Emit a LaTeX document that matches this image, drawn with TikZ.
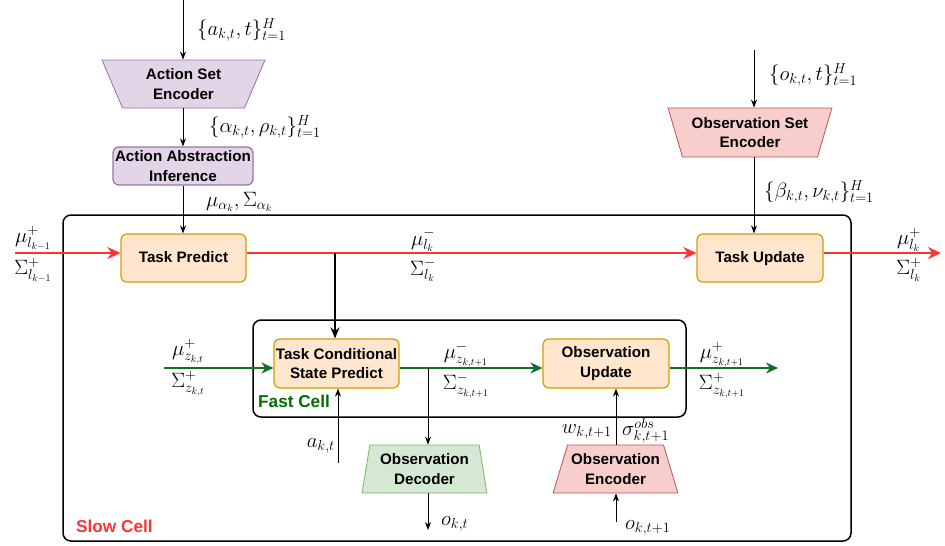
\documentclass[tikz,border=0pt]{standalone}
\usepackage{fontspec}
\setmainfont{Liberation Sans}
\usetikzlibrary{shapes.geometric,arrows.meta}
\definecolor{orfill}{HTML}{FFE6CC}
\definecolor{ordraw}{HTML}{D79B00}
\definecolor{pufill}{HTML}{E1D5E7}
\definecolor{pudraw}{HTML}{9673A6}
\definecolor{rdfill}{HTML}{F8CECC}
\definecolor{rddraw}{HTML}{B85450}
\definecolor{gnfill}{HTML}{D5E8D4}
\definecolor{gndraw}{HTML}{82B366}
\definecolor{redline}{HTML}{FF3333}
\definecolor{greenline}{RGB}{20,110,40}
\definecolor{greentext}{RGB}{0,110,0}
\newcommand{\boxfont}{\fontsize{15.2}{19.5}\selectfont\bfseries}
\newcommand{\mathfont}{\fontsize{20.5}{24}\selectfont}
\tikzset{
  taskbox/.style={draw=ordraw, fill=orfill, rounded corners=6pt, line width=1.2pt,
    align=center, font=\boxfont, inner sep=1pt},
  oneline/.style={text height=11pt, text depth=3pt},
  purplebox/.style={draw=pudraw, fill=pufill, rounded corners=6pt, line width=1.2pt,
    align=center, font=\boxfont, inner sep=1pt},
  trap/.style={trapezium, trapezium stretches=true, align=center, font=\boxfont,
    inner xsep=1pt, inner ysep=1pt, line width=0.8pt},
  lab/.style={font=\mathfont, inner sep=0pt},
  celllab/.style={font=\fontsize{17.2}{20}\selectfont\bfseries, anchor=west, inner sep=0pt},
  thinarrow/.style={draw=black, line width=0.8pt, -{Stealth[length=8pt,width=6pt]}},
  thickarrow/.style={draw=black, line width=2pt, -{Stealth[length=11pt,width=9pt]}},
  redarrow/.style={draw=redline, line width=2.6pt, -{Stealth[length=13pt,width=12pt]}},
  greenarrow/.style={draw=greenline, line width=2.4pt, -{Stealth[length=12pt,width=11pt]}},
  cellbox/.style={draw=black, line width=1.5pt, rounded corners=8pt},
}
\begin{document}
\begin{tikzpicture}[x=1pt,y=-1pt]
\useasboundingbox (0,0) rectangle (945,546);

% cells
\draw[cellbox] (63,215) rectangle (851,541);
\draw[cellbox] (253,320) rectangle (686,417);
\node[celllab, text=redline] (slowlab) at (76,526) {Slow Cell};
\node[celllab, text=greentext] (fastlab) at (258,401) {Fast Cell};

% nodes
\node[trap, draw=pudraw, fill=pufill, minimum width=163pt, minimum height=48pt,
  trapezium left angle=111.6, trapezium right angle=111.6] (ase) at (183.5,84) {Action Set\\Encoder};
\node[purplebox, minimum width=140pt, minimum height=38pt] (aai) at (183,166) {Action Abstraction\\Inference};
\node[trap, draw=rddraw, fill=rdfill, minimum width=164pt, minimum height=49pt,
  trapezium left angle=111.2, trapezium right angle=111.2] (ose) at (750,132.5) {Observation Set\\Encoder};
\node[taskbox, oneline, minimum width=125pt, minimum height=48pt] (tp) at (183.5,258) {Task Predict};
\node[taskbox, oneline, minimum width=126pt, minimum height=48pt] (tu) at (760,258) {Task Update};
\node[taskbox, minimum width=125pt, minimum height=49pt] (tcsp) at (336.5,363.5) {Task Conditional\\State Predict};
\node[taskbox, minimum width=126pt, minimum height=49pt] (ou) at (606,363.5) {Observation\\Update};
\node[trap, draw=gndraw, fill=gnfill, minimum width=125pt, minimum height=48pt,
  trapezium left angle=78.8, trapezium right angle=78.8] (od) at (424.5,469) {Observation\\Decoder};
\node[trap, draw=rddraw, fill=rdfill, minimum width=125pt, minimum height=48pt,
  trapezium left angle=67.4, trapezium right angle=67.4] (oe) at (615.5,469) {Observation\\Encoder};

% coordinates
\coordinate (ain) at (183,0);
\coordinate (oin) at (754,50);
\coordinate (redstart) at (15,253);
\coordinate (redend) at (941,253);
\coordinate (tpy) at (0,253);
\coordinate (branch) at (335,253);
\coordinate (greenstart) at (164,368);
\coordinate (greenend) at (778,368);
\coordinate (gy) at (0,368);
\coordinate (gbranch) at (428,368);
\coordinate (akt) at (338,463);
\coordinate (okt) at (428,530);
\coordinate (okt1) at (616,522);

% top black arrows
\draw[thinarrow] (ain) -- (ain |- ase.north);
\draw[thinarrow] (ase.south -| ain) -- (ain |- aai.north);
\draw[thinarrow] (aai.south -| ain) -- (ain |- tp.north);
\draw[thinarrow] (oin) -- (oin |- ose.north);
\draw[thinarrow] (ose.south -| oin) -- (oin |- tu.north);

% red line
\draw[redarrow] (redstart) -- (tpy -| tp.west);
\draw[redarrow] (tpy -| tp.east) -- (tpy -| tu.west);
\draw[redarrow] (tpy -| tu.east) -- (redend);

% thick branch
\draw[thickarrow] (branch) -- (branch |- tcsp.north);

% green line
\draw[greenarrow] (greenstart) -- (gy -| tcsp.west);
\draw[greenarrow] (gy -| tcsp.east) -- (gy -| ou.west);
\draw[greenarrow] (gy -| ou.east) -- (greenend);

% lower arrows
\draw[thinarrow] (gbranch) -- (gbranch |- od.north);
\draw[thinarrow] (od.south -| gbranch) -- (okt);
\draw[thinarrow] (akt) -- (akt |- tcsp.south);
\draw[thinarrow] (okt1) -- (okt1 |- oe.south);
\draw[thinarrow] (oe.north -| okt1) -- (okt1 |- ou.south);

% labels
\node[lab, anchor=west] (l1) at (197,30) {$\{a_{k,t},t\}_{t=1}^{H}$};
\node[lab, anchor=west] (l2) at (209,127) {$\{\alpha_{k,t},\rho_{k,t}\}_{t=1}^{H}$};
\node[lab, anchor=west] (l3) at (206,202) {$\mu_{\alpha_k},\Sigma_{\alpha_k}$};
\node[lab, anchor=west] (l4) at (769,75) {$\{o_{k,t},t\}_{t=1}^{H}$};
\node[lab, anchor=west] (l5) at (764,192) {$\{\beta_{k,t},\nu_{k,t}\}_{t=1}^{H}$};
\node[lab] (l6) at (33,238) {$\mu_{l_{k-1}}^{+}$};
\node[lab] (l7) at (33,270) {$\Sigma_{l_{k-1}}^{+}$};
\node[lab] (l8) at (423,240) {$\mu_{l_k}^{-}$};
\node[lab] (l9) at (423,270) {$\Sigma_{l_k}^{-}$};
\node[lab] (l10) at (909,240) {$\mu_{l_k}^{+}$};
\node[lab] (l11) at (909,270) {$\Sigma_{l_k}^{+}$};
\node[lab] (l12) at (188,352) {$\mu_{z_{k,t}}^{+}$};
\node[lab] (l13) at (188,384) {$\Sigma_{z_{k,t}}^{+}$};
\node[lab] (l14) at (466,355) {$\mu_{z_{k,t+1}}^{-}$};
\node[lab] (l15) at (466,386) {$\Sigma_{z_{k,t+1}}^{-}$};
\node[lab] (l16) at (722,355) {$\mu_{z_{k,t+1}}^{+}$};
\node[lab] (l17) at (722,386) {$\Sigma_{z_{k,t+1}}^{+}$};
\node[lab, anchor=east] (l18) at (335,446) {$a_{k,t}$};
\node[lab, anchor=east] (l19) at (612,432) {$w_{k,t+1}$};
\node[lab, anchor=west] (l20) at (622,431) {$\sigma_{k,t+1}^{obs}$};
\node[lab, anchor=west] (l21) at (441,524) {$o_{k,t}$};
\node[lab, anchor=west] (l22) at (625,528) {$o_{k,t+1}$};
\end{tikzpicture}
\end{document}
